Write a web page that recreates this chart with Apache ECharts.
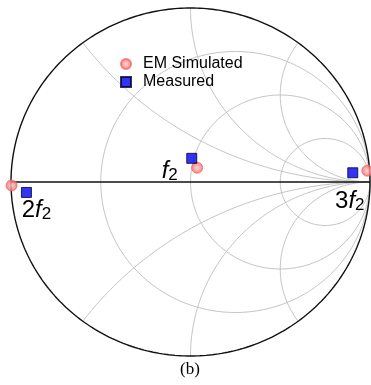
<!DOCTYPE html>
<html>
<head>
<meta charset="utf-8">
<script src="https://cdn.jsdelivr.net/npm/echarts@6/dist/echarts.min.js"></script>
<style>
  html, body { margin: 0; padding: 0; background: #fff; }
  #chart { width: 371px; height: 385px; }
</style>
</head>
<body>
<div id="chart"></div>
<script>
// Harmonic labels (rich-text: italic f with subscript 2)
const harmonics = ['f2', '2f2', '3f2'];
const harmonicLabels = ['{i|f}{s|2}', '{n|2}{i|f}{s|2}', '{n|3}{i|f}{s|2}'];

// Reflection coefficients, real and imaginary parts
const simRe = [0.037, -0.997, 0.985];
const simIm = [0.082, -0.020, 0.065];
const measRe = [0.007, -0.914, 0.904];
const measIm = [0.136, -0.060, 0.053];

// Smith grid: constant-resistance circles and constant-reactance arcs
const rValues = [1 / 3, 1, 3];
const xValues = [0.5, 1, 2];

// Label placement relative to the measured markers (pixels)
const labelOffsets = [[-22, 13], [10, 18], [-3, 29]];

function arcPoints(cx, cy, rad, a0, a1, n) {
  const pts = [];
  for (let k = 0; k <= n; k++) {
    const a = a0 + (a1 - a0) * k / n;
    pts.push([cx + rad * Math.cos(a), cy + rad * Math.sin(a)]);
  }
  return pts;
}

const gridSeries = [];
const gridStyle = { color: '#c4c4c4', width: 1 };

function addLine(pts, style, z) {
  gridSeries.push({
    type: 'line', data: pts, showSymbol: false, symbol: 'none', silent: true,
    lineStyle: style, clip: false, z: z, animation: false
  });
}

rValues.forEach(r => {
  addLine(arcPoints(r / (1 + r), 0, 1 / (1 + r), 0, 2 * Math.PI, 240), gridStyle, 1);
});
xValues.forEach(x => {
  const px = (x * x - 1) / (x * x + 1), py = 2 * x / (x * x + 1);
  let a0 = Math.atan2(py - 1 / x, px - 1);
  if (a0 < 0) a0 += 2 * Math.PI;
  const upper = arcPoints(1, 1 / x, 1 / x, a0, 1.5 * Math.PI, 240);
  addLine(upper, gridStyle, 1);
  addLine(upper.map(p => [p[0], -p[1]]), gridStyle, 1);
});

// Outer boundary and real axis
const blackStyle = { color: '#111', width: 1.4 };
addLine(arcPoints(0, 0, 1, 0, 2 * Math.PI, 360), blackStyle, 2);
addLine([[-1, 0], [1, 0]], blackStyle, 2);

const simData = simRe.map((v, i) => [v, simIm[i]]);
const measData = measRe.map((v, i) => ({
  value: [v, measIm[i]],
  label: {
    show: true,
    formatter: harmonicLabels[i],
    position: 'inside',
    offset: labelOffsets[i]
  }
}));

const FONT = 'Liberation Sans, Arial, sans-serif';
const tok = { color: '#000', fontFamily: FONT, textBorderWidth: 0, opacity: 1 };

const chart = echarts.init(document.getElementById('chart'), null, { renderer: 'canvas' });
chart.setOption({
  animation: false,
  backgroundColor: '#fff',
  grid: { left: 11, top: 8, width: 359, height: 348, containLabel: false },
  xAxis: { type: 'value', min: -1, max: 1, show: false },
  yAxis: { type: 'value', min: -1, max: 1, show: false },
  legend: {
    orient: 'vertical',
    left: 115, top: 51,
    itemWidth: 10, itemHeight: 10, itemGap: 2,
    data: ['EM Simulated', 'Measured'],
    textStyle: {
      fontFamily: FONT, fontSize: 16, color: '#000', lineHeight: 16, padding: [0, 0, 0, 7]
    }
  },
  graphic: [{
    type: 'text', x: 190, y: 370,
    style: {
      text: '(b)', fill: '#000', fontSize: 17,
      fontFamily: 'Liberation Serif, Times New Roman, serif',
      textAlign: 'center', textVerticalAlign: 'middle'
    }
  }],
  series: gridSeries.concat([
    {
      name: 'EM Simulated', type: 'scatter', data: simData, symbol: 'circle', symbolSize: 11,
      clip: false, z: 5,
      itemStyle: {
        color: {
          type: 'radial', x: 0.5, y: 0.5, r: 0.5,
          colorStops: [{ offset: 0, color: '#ffc8c8' }, { offset: 0.55, color: '#fa9090' }, { offset: 1, color: '#ec5a5a' }]
        },
        borderColor: '#f06a6a', borderWidth: 1
      },
      emphasis: { disabled: true }
    },
    {
      name: 'Measured', type: 'scatter', data: measData, symbol: 'rect', symbolSize: 10,
      clip: false, z: 6,
      itemStyle: { color: '#0000f0', borderColor: '#000030', borderWidth: 1 },
      label: {
        color: '#000', textBorderWidth: 0, opacity: 1,
        align: 'center', verticalAlign: 'middle',
        fontFamily: FONT,
        rich: {
          n: Object.assign({ fontSize: 24, lineHeight: 24 }, tok),
          i: Object.assign({ fontSize: 24, lineHeight: 24, fontStyle: 'italic' }, tok),
          s: Object.assign({ fontSize: 17, lineHeight: 17, verticalAlign: 'bottom', padding: [20, 0, 0, 0] }, tok)
        }
      },
      emphasis: { disabled: true }
    }
  ])
});
</script>
</body>
</html>
